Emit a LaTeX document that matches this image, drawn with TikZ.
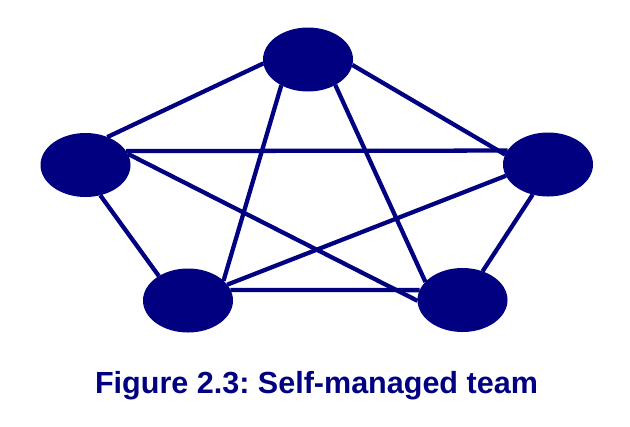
\documentclass[tikz,border=0pt]{standalone}
\usepackage{fontspec}
\setmainfont{Liberation Sans}
\usetikzlibrary{shapes.geometric}
\definecolor{navyc}{RGB}{0,0,128}
\frenchspacing
\tikzset{
  member/.style={ellipse, fill=navyc, draw=none, inner sep=0pt, outer sep=0pt,
                 minimum width=67.5pt, minimum height=48pt},
  link/.style={draw=navyc, line width=3.2pt},
  caption/.style={text=navyc, font=\fontsize{22.9}{27}\selectfont\bfseries, anchor=base, inner sep=0pt}
}
\begin{document}
\begin{tikzpicture}[x=0.75pt,y=-0.75pt]
\useasboundingbox (0,0) rectangle (630,426);
\node[member] (T) at (308,59.5) {};
\node[member] (L) at (85.5,165) {};
\node[member] (R) at (548,164.5) {};
\node[member] (BL) at (188,300.5) {};
\node[member] (BR) at (462.5,300) {};
\draw[link] (T.185) -- (L.52.5);
\draw[link] (T.-7) -- (R.167.5);
\draw[link] (T.224.4) -- (BL.29);
\draw[link] (T.-43.4) -- (BR.154.4);
\draw[link] (L.19.4) -- (R.161.4);
\draw[link] (L.15) -- (BR.181);
\draw[link] (L.-64) -- (BL.140.6);
\draw[link] (R.195.7) -- (BL.22);
\draw[link] (R.243.8) -- (BR.55);
\draw[link] (BL.14) -- (BR.167);
\node[caption] (cap) at (316.5,393) {Figure 2.3: Self-managed team};
\end{tikzpicture}
\end{document}
